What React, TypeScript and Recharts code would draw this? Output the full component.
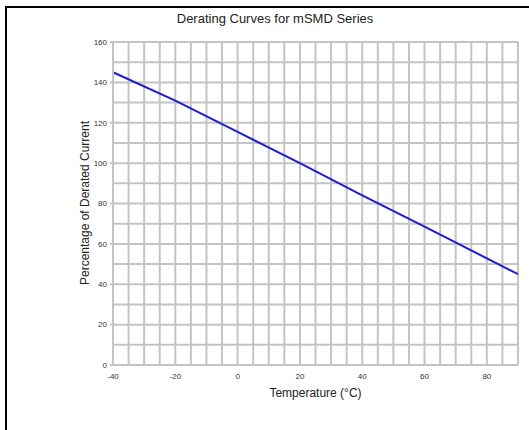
import React from "react";
import {
  LineChart,
  Line,
  XAxis,
  YAxis,
  ReferenceLine,
  Label,
} from "recharts";

// temperature (°C) vs percentage of derated current
const temps = [-40, -20, 0, 20, 40, 60, 90];
const derating = [145, 131, 115.5, 100, 84, 68.5, 45];

const xTicks = [-40, -20, 0, 20, 40, 60, 80];
const yTicks = [0, 20, 40, 60, 80, 100, 120, 140, 160];

// grid lines every 5 °C and every 10 %
const xGrid = [
  -35, -30, -25, -20, -15, -10, -5, 0, 5, 10, 15, 20, 25, 30, 35, 40, 45,
  50, 55, 60, 65, 70, 75, 80, 85, 90,
];
const yGrid = [10, 20, 30, 40, 50, 60, 70, 80, 90, 100, 110, 120, 130, 140, 150, 160];

const data = temps.map((t, i) => ({ temp: t, pct: derating[i] }));

const gridColor = "#c4c4c4";
const tickStyle = { fontSize: 8, fill: "#333" };

export default function App() {
  return (
    <div
      style={{
        position: "absolute",
        left: 0,
        top: 0,
        width: 529,
        height: 430,
        background: "#fff",
        overflow: "hidden",
        fontFamily: "'Liberation Sans', Arial, sans-serif",
      }}
    >
      {/* frame, only left and top edges are inside the picture */}
      <div
        style={{
          position: "absolute",
          left: 5,
          top: 6,
          width: 540,
          height: 440,
          borderLeft: "2px solid #000",
          borderTop: "2px solid #000",
        }}
      />
      <div
        style={{
          position: "absolute",
          left: 0,
          width: 550,
          top: 11,
          textAlign: "center",
          fontSize: 13,
          color: "#222",
        }}
      >
        Derating Curves for mSMD Series
      </div>
      <div style={{ position: "absolute", left: 0, top: 0 }}>
        <LineChart
          width={529}
          height={430}
          data={data}
          margin={{ top: 42, right: 11, left: 63, bottom: 25 }}
        >
          <XAxis
            dataKey="temp"
            type="number"
            domain={[-40, 90]}
            ticks={xTicks}
            tick={tickStyle}
            tickLine={false}
            axisLine={{ stroke: gridColor, strokeWidth: 2 }}
            height={40}
            tickMargin={2}
          >
            <Label
              value="Temperature (°C)"
              position="insideBottom"
              offset={8}
              style={{ fontSize: 12, fill: "#222" }}
            />
          </XAxis>
          <YAxis
            type="number"
            domain={[0, 160]}
            ticks={yTicks}
            tick={tickStyle}
            tickLine={{ stroke: gridColor, strokeWidth: 2 }}
            tickSize={3}
            axisLine={{ stroke: gridColor, strokeWidth: 2 }}
            width={50}
            tickMargin={3}
          >
            <Label
              content={() => (
                <text
                  x={86}
                  y={203}
                  transform="rotate(-90 86 203)"
                  textAnchor="middle"
                  dominantBaseline="middle"
                  style={{ fontSize: 12, fill: "#222" }}
                >
                  Percentage of Derated Current
                </text>
              )}
            />
          </YAxis>
          {xGrid.map((v) => (
            <ReferenceLine
              key={"x" + v}
              x={v}
              stroke={gridColor}
              strokeWidth={2}
            />
          ))}
          {yGrid.map((v) => (
            <ReferenceLine
              key={"y" + v}
              y={v}
              stroke={gridColor}
              strokeWidth={2}
            />
          ))}
          <Line
            type="linear"
            dataKey="pct"
            stroke="#1c1cd6"
            strokeWidth={2}
            dot={false}
            isAnimationActive={false}
          />
        </LineChart>
      </div>
    </div>
  );
}
